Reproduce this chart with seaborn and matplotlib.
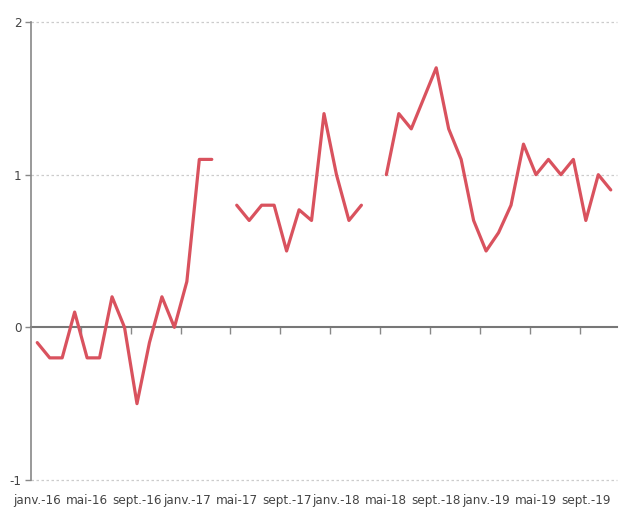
import numpy as np
import pandas as pd
import matplotlib
matplotlib.use("Agg")
import matplotlib.pyplot as plt
import seaborn as sns

months = ['janv.', 'févr.', 'mars', 'avr.', 'mai', 'juin',
          'juil.', 'août', 'sept.', 'oct.', 'nov.', 'déc.']
years = ['16', '17', '18', '19']
labels = [m + '-' + y for y in years for m in months][:47]

values = [-0.1, -0.2, -0.2, 0.1, -0.2, -0.2, 0.2, 0.0, -0.5, -0.1, 0.2, 0.0,
          0.3, 1.1, 1.1, np.nan, 0.8, 0.7, 0.8, 0.8, 0.5, 0.77, 0.7, 1.4,
          1.0, 0.7, 0.8, np.nan, 1.0, 1.4, 1.3, 1.5, 1.7, 1.3, 1.1, 0.7,
          0.5, 0.62, 0.8, 1.2, 1.0, 1.1, 1.0, 1.1, 0.7, 1.0, 0.9]

df = pd.DataFrame({'idx': np.arange(len(values)), 'val': values})
df['segment'] = df['val'].isna().cumsum()
df = df.dropna()

sns.set_style('white')
plt.rcParams['font.family'] = ['DejaVu Sans']
plt.rcParams['font.stretch'] = 'condensed'

fig = plt.figure(figsize=(6.23, 5.13), dpi=100)
ax = fig.add_axes([31/623, 33/513, 586/623, 458/513])

sns.lineplot(data=df, x='idx', y='val', units='segment', estimator=None,
             color='#d9525e', linewidth=2.3, ax=ax)

ax.set_xlim(-0.5, len(values) - 0.5)
ax.set_ylim(-1, 2)
ax.set_xlabel('')
ax.set_ylabel('')

# grid
for y in [-1, 1, 2]:
    ax.axhline(y, color='#cccccc', linestyle=(0, (2, 2)), linewidth=0.9,
               zorder=0, clip_on=False)

# spines
for s in ['top', 'right']:
    ax.spines[s].set_visible(False)
ax.spines['left'].set_color('#888888')
ax.spines['left'].set_linewidth(1.2)
ax.spines['bottom'].set_position(('data', 0))
ax.spines['bottom'].set_color('#777777')
ax.spines['bottom'].set_linewidth(1.5)
ax.spines['bottom'].set_zorder(1)

ax.set_yticks([-1, 0, 1, 2])
ax.set_yticklabels(['-1', '0', '1', '2'])
ax.tick_params(axis='y', direction='out', length=4, width=1, color='#888888',
               labelsize=9.5, labelcolor='#444444', pad=3, left=True)

bounds = np.arange(4, len(values), 4) - 0.5
ax.set_xticks(bounds)
ax.set_xticklabels([''] * len(bounds))
ax.tick_params(axis='x', direction='out', length=5, width=1, color='#888888',
               bottom=True)

sec = ax.secondary_xaxis('bottom')
sec.set_xticks(np.arange(0, len(values), 4))
sec.set_xticklabels(labels[::4])
sec.tick_params(length=0, labelsize=9.5, labelcolor='#444444', pad=10)
sec.spines['bottom'].set_visible(False)

fig.savefig('out.png', dpi=100)
